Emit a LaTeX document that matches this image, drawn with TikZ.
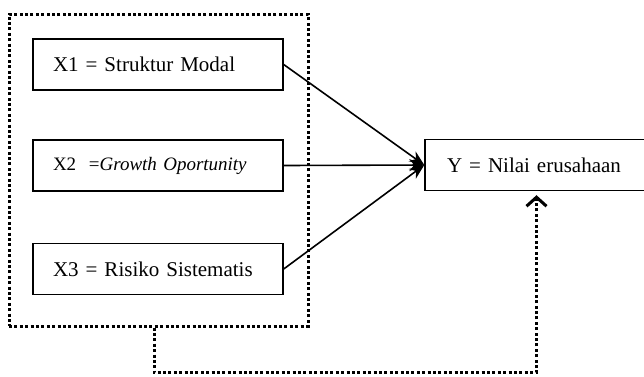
\documentclass[tikz,border=0pt]{standalone}
\usepackage{fontspec}
\setmainfont{Liberation Serif}
\usetikzlibrary{arrows.meta,positioning}
\tikzset{>={Stealth[length=15pt,width=12pt]}}
\tikzset{
  box/.style={draw,line width=1.4pt,minimum height=51pt,inner xsep=20pt,
    align=left,font=\fontsize{21}{24}\selectfont},
  dotline/.style={line width=3pt,dash pattern=on 3pt off 2.4pt},
  back/.style={dotline,-{Straight Barb[length=9pt,width=20pt,line width=3pt]}}
}

\begin{document}
\begin{tikzpicture}[x=1pt,y=-1pt]
    \useasboundingbox (0,0) rectangle (644,376);
    % variabel bebas
    \node[box,text width=210pt] (x1) at (158,64.5) {X1 = Struktur Modal};
    \node[box,text width=210pt,font=\fontsize{19}{22}\selectfont] (x2) at (158,165.5) {X2~~=\textit{Growth Oportunity}};
    \node[box,text width=210pt] (x3) at (158,269) {X3 = Risiko Sistematis};
    \node[dotline,draw,minimum width=299pt,minimum height=312pt] (grp) at (158.5,170) {};

    % variabel terikat
    \node[box,text width=179pt,inner xsep=22pt] (y) at (536.5,165) {Y = Nilai erusahaan};

	\draw[line width=1.6pt,->] (x1.east) -- (y.west);
	\draw[line width=1.6pt,->] (x2.east) -- (y.west);
	\draw[line width=1.6pt,->] (x3.east) -- (y.west);
    \draw[back] ([xshift=-4.5pt]grp.south) -- ++(0,45) -| ([yshift=-4pt]y.south);
    \end{tikzpicture}
\end{document}
